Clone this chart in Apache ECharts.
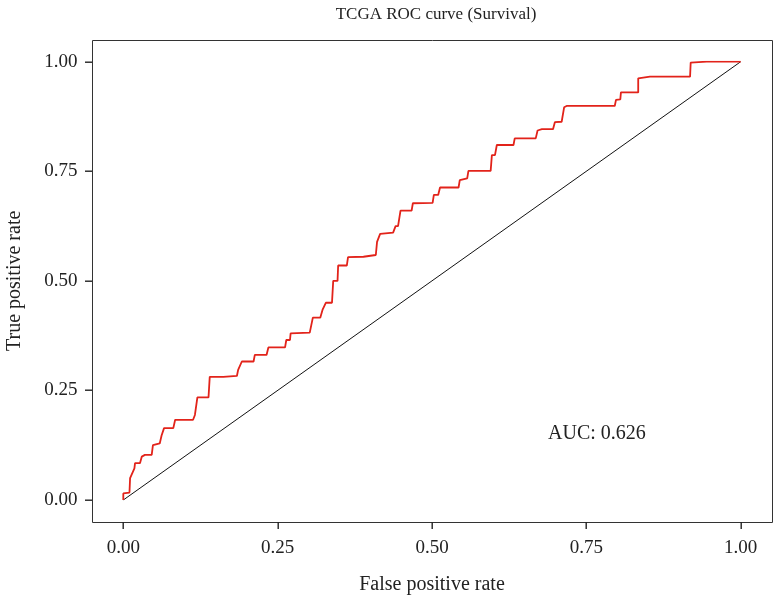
<!DOCTYPE html>
<html>
<head>
<meta charset="utf-8">
<script src="https://cdn.jsdelivr.net/npm/echarts@6/dist/echarts.min.js"></script>
<style>html,body{margin:0;padding:0;background:#fff}#c{width:773px;height:596px}</style>
</head>
<body>
<div id="c"></div>
<script>
const fpr = [0,0,0.010,0.011,0.018,0.019,0.027,0.030,0.035,0.046,0.048,0.059,0.062,0.066,0.081,0.084,0.113,0.116,0.120,0.138,0.140,0.162,0.184,0.186,0.192,0.211,0.213,0.232,0.235,0.262,0.264,0.270,0.271,0.302,0.307,0.319,0.323,0.328,0.338,0.340,0.347,0.348,0.362,0.364,0.389,0.409,0.411,0.416,0.437,0.441,0.445,0.449,0.467,0.469,0.501,0.503,0.510,0.513,0.543,0.545,0.557,0.559,0.595,0.597,0.602,0.605,0.632,0.634,0.668,0.671,0.678,0.696,0.699,0.710,0.714,0.718,0.796,0.798,0.805,0.806,0.834,0.834,0.853,0.918,0.919,0.945,1];
const tpr = [0,0.015,0.017,0.050,0.072,0.084,0.084,0.099,0.103,0.103,0.125,0.129,0.147,0.164,0.164,0.183,0.183,0.194,0.234,0.234,0.281,0.281,0.283,0.297,0.316,0.316,0.331,0.331,0.348,0.348,0.365,0.365,0.380,0.382,0.416,0.416,0.435,0.450,0.450,0.500,0.500,0.535,0.535,0.554,0.555,0.559,0.589,0.607,0.610,0.625,0.625,0.660,0.660,0.677,0.678,0.696,0.696,0.713,0.713,0.730,0.734,0.751,0.751,0.787,0.787,0.810,0.810,0.825,0.825,0.843,0.846,0.846,0.862,0.863,0.896,0.899,0.899,0.913,0.914,0.930,0.930,0.962,0.966,0.966,0.998,1.0,1.0];
const diagX = [0, 1];
const diagY = [0, 1];
const tickValues = [0, 0.25, 0.5, 0.75, 1];
const axisMin = 0, axisMax = 1, axisStep = 0.25;
const expand = 0.05;
const titleText = 'TCGA ROC curve (Survival)';
const xName = 'False positive rate';
const yName = 'True positive rate';
const aucText = 'AUC: 0.626';

const FONT = '"Liberation Serif", "DejaVu Serif", serif';
const TICK = 7;
const chart = echarts.init(document.getElementById('c'), null, {renderer: 'canvas'});
const axisCommon = {
  type: 'value', min: axisMin, max: axisMax, interval: axisStep,
  splitLine: {show: false},
  axisLine: {show: false, onZero: false},
  axisTick: {show: false},
  axisLabel: {formatter: v => v.toFixed(2), color: '#222', fontFamily: FONT, fontSize: 19, showMinLabel: true, showMaxLabel: true},
  nameLocation: 'middle',
  nameTextStyle: {color: '#222', fontFamily: FONT, fontSize: 20}
};
const L = 123.3, R = 740.7, T = 61.7, B = 500;
const boxL = L - expand * (R - L), boxB = B + expand * (B - T);
chart.setOption({
  animation: false,
  backgroundColor: '#fff',
  title: {text: titleText, left: 431, top: 1, textAlign: 'center',
    textStyle: {fontFamily: FONT, fontSize: 17, fontWeight: 'normal', color: '#222'}},
  grid: {left: L, right: 773 - R, top: T, bottom: 596 - B, show: false,
    containLabel: false, outerBoundsMode: 'none'},
  xAxis: Object.assign({}, axisCommon, {name: xName, offset: boxB - B, nameGap: 53,
    axisLabel: Object.assign({}, axisCommon.axisLabel, {margin: 17})}),
  yAxis: Object.assign({}, axisCommon, {name: yName, offset: L - boxL, nameGap: 68,
    axisLabel: Object.assign({}, axisCommon.axisLabel, {margin: 15})}),
  series: [
    {type: 'line', data: diagX.map((x, i) => [x, diagY[i]]), symbol: 'none', lineStyle: {color: '#111', width: 1}, z: 2},
    {type: 'line', data: fpr.map((x, i) => [x, tpr[i]]), symbol: 'none', lineStyle: {color: '#E2231A', width: 1.8}, z: 3}
  ]
});

// Panel box and ticks placed through the chart's own scales
const span = axisMax - axisMin;
const c0 = chart.convertToPixel({gridIndex: 0}, [axisMin - expand * span, axisMin - expand * span]);
const c1 = chart.convertToPixel({gridIndex: 0}, [axisMax + expand * span, axisMax + expand * span]);
const bx0 = Math.round(c0[0]), bx1 = Math.round(c1[0]);
const by0 = Math.round(c1[1]), by1 = Math.round(c0[1]);
const elements = [
  {type: 'rect', silent: true, z: 1, shape: {x: bx0 + 0.5, y: by0 + 0.5, width: bx1 - bx0, height: by1 - by0},
    style: {fill: 'none', stroke: '#333', lineWidth: 1}}
];
tickValues.forEach(v => {
  const p = chart.convertToPixel({gridIndex: 0}, [v, v]);
  const sx = Math.round(p[0]), sy = Math.round(p[1]);
  elements.push({type: 'rect', silent: true, z: 5, shape: {x: sx - 0.5, y: by1, width: 1.4, height: TICK}, style: {fill: '#222'}});
  elements.push({type: 'rect', silent: true, z: 5, shape: {x: bx0 - TICK, y: sy - 0.5, width: TICK, height: 1.4}, style: {fill: '#222'}});
});
elements.push({type: 'text', left: 548, top: 424, style: {text: aucText, fontFamily: FONT, fontSize: 20, fill: '#222'}});
chart.setOption({graphic: {elements: elements}});
</script>
</body>
</html>
